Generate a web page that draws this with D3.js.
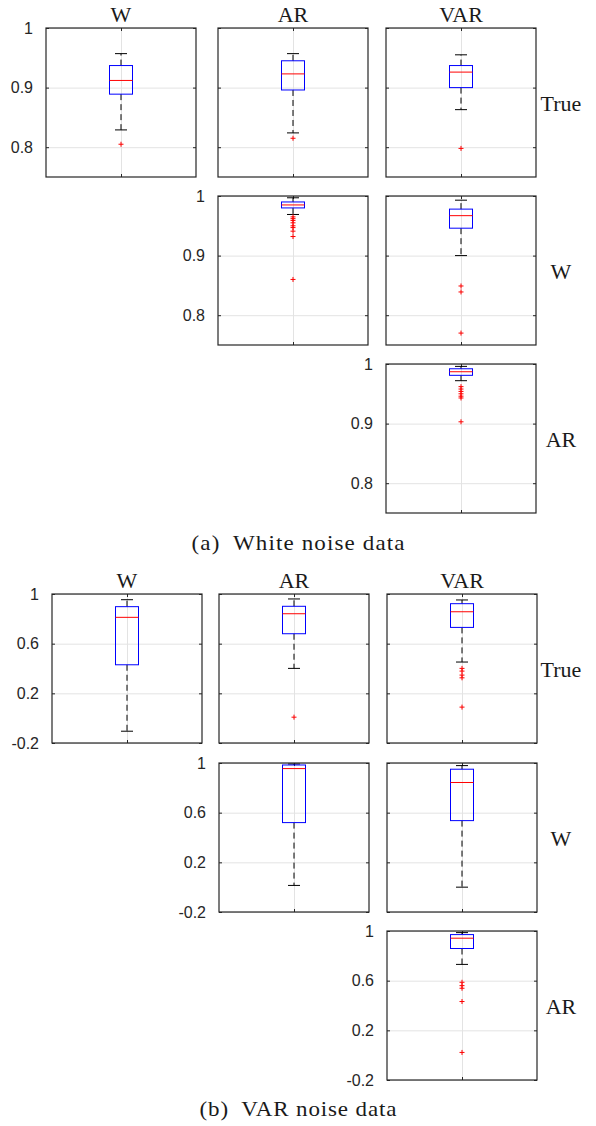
<!DOCTYPE html>
<html lang="en">
<head>
  <meta charset="UTF-8">
  <title>Boxplots: white noise and VAR noise data</title>
  <script src="https://d3js.org/d3.v7.min.js"></script>
  <style>
    body { margin: 0; background: #fff; }
    svg { display: block; }
    .tick text { font-family: "Liberation Sans", Arial, sans-serif; font-size: 16px; fill: #262626; }
    .title, .rowlab, .caption { font-family: "Liberation Serif", "DejaVu Serif", serif; fill: #1a1a1a; }
  </style>
</head>
<body>
<svg width="596" height="1126"></svg>

<script>
  // column / row names (estimator used vs. model that generated the data)
  const colNames = ["W", "AR", "VAR"];
  const rowNames = ["True", "W", "AR"];

  // which cells of the 3x3 grid hold a plot: [row, col]
  const cells = [[0, 0], [0, 1], [0, 2], [1, 1], [1, 2], [2, 2]];

  // (a) white noise data: [lower whisker, q1, median, q3, upper whisker]
  const whiteTicks = [0.8, 0.9, 1];
  const whiteDomain = [0.75, 1];
  const whiteStats = [
    [0.829, 0.889, 0.912, 0.937, 0.957],
    [0.824, 0.896, 0.923, 0.945, 0.957],
    [0.863, 0.900, 0.926, 0.937, 0.955],
    [0.969, 0.980, 0.985, 0.990, 0.997],
    [0.900, 0.946, 0.967, 0.978, 0.993],
    [0.972, 0.981, 0.987, 0.992, 0.996]
  ];
  const whiteOutliers = [
    [0.805],
    [0.815],
    [0.798],
    [0.965, 0.962, 0.959, 0.955, 0.950, 0.947, 0.941, 0.932, 0.860],
    [0.849, 0.839, 0.770],
    [0.962, 0.958, 0.954, 0.950, 0.946, 0.943, 0.903]
  ];

  // (b) VAR noise data
  const varTicks = [-0.2, 0.2, 0.6, 1];
  const varDomain = [-0.2, 1];
  const varStats = [
    [-0.105, 0.430, 0.812, 0.898, 0.954],
    [0.401, 0.680, 0.841, 0.901, 0.960],
    [0.452, 0.731, 0.857, 0.922, 0.952],
    [0.014, 0.520, 0.955, 0.984, 0.992],
    [0.000, 0.536, 0.843, 0.950, 0.979],
    [0.731, 0.859, 0.942, 0.971, 0.987]
  ];
  const varOutliers = [
    [],
    [0.008],
    [0.401, 0.379, 0.347, 0.325, 0.089],
    [],
    [],
    [0.587, 0.560, 0.539, 0.432, 0.022]
  ];

  const svg = d3.select("svg");
  const pw = 150, ph = 149;

  const sections = [
    { lefts: [46, 218, 386], tops: [28, 196, 364], ticks: whiteTicks, domain: whiteDomain,
      stats: whiteStats, outliers: whiteOutliers,
      caption: "(a)\u2002White noise data", capY: 550, capW: 213 },
    { lefts: [52, 219, 387], tops: [594, 763, 931], ticks: varTicks, domain: varDomain,
      stats: varStats, outliers: varOutliers,
      caption: "(b)\u2002VAR noise data", capY: 1116, capW: 197 }
  ];

  const fmt = d => String(d);

  sections.forEach(sec => {
    cells.forEach(([r, c], i) => {
      const left = sec.lefts[c], top = sec.tops[r];
      const y = d3.scaleLinear().domain(sec.domain).range([top + ph, top]);
      const x = d3.scalePoint().domain([1]).range([left, left + pw]).padding(0.5);
      const g = svg.append("g");

      // grid
      g.append("g")
        .attr("transform", `translate(${left},0)`)
        .call(d3.axisLeft(y).tickValues(sec.ticks).tickSize(-pw).tickFormat(""))
        .call(a => a.select(".domain").remove())
        .call(a => a.selectAll("line").attr("stroke", "#e3e3e3"));
      g.append("g")
        .attr("transform", `translate(0,${top + ph})`)
        .call(d3.axisBottom(x).tickSize(-ph).tickFormat(""))
        .call(a => a.select(".domain").remove())
        .call(a => a.selectAll("line").attr("stroke", "#e3e3e3"));

      // tick marks (inside) and labels on the first plot of each row
      const labelled = (r === c);
      g.append("g")
        .attr("transform", `translate(${left},0)`)
        .call(d3.axisLeft(y).tickValues(sec.ticks).tickSize(-3).tickPadding(13)
          .tickFormat(labelled ? fmt : ""))
        .call(a => a.select(".domain").remove())
        .call(a => a.selectAll("line").attr("stroke", "#262626"));
      g.append("g")
        .attr("transform", `translate(${left + pw},0)`)
        .call(d3.axisRight(y).tickValues(sec.ticks).tickSize(-3).tickFormat(""))
        .call(a => a.select(".domain").remove())
        .call(a => a.selectAll("line").attr("stroke", "#262626"));
      g.append("g")
        .attr("transform", `translate(0,${top + ph})`)
        .call(d3.axisBottom(x).tickSize(-3).tickFormat(""))
        .call(a => a.select(".domain").remove())
        .call(a => a.selectAll("line").attr("stroke", "#262626"));
      g.append("g")
        .attr("transform", `translate(0,${top})`)
        .call(d3.axisTop(x).tickSize(-3).tickFormat(""))
        .call(a => a.select(".domain").remove())
        .call(a => a.selectAll("line").attr("stroke", "#262626"));

      // box
      const [lo, q1, med, q3, hi] = sec.stats[i];
      const cx = x(1), bw = 23, cw = 12;
      g.append("line").attr("x1", cx).attr("x2", cx).attr("y1", y(q3)).attr("y2", y(hi))
        .attr("stroke", "#000").attr("stroke-dasharray", "6,4");
      g.append("line").attr("x1", cx).attr("x2", cx).attr("y1", y(q1)).attr("y2", y(lo))
        .attr("stroke", "#000").attr("stroke-dasharray", "6,4");
      [lo, hi].forEach(v => g.append("line")
        .attr("x1", cx - cw / 2).attr("x2", cx + cw / 2).attr("y1", y(v)).attr("y2", y(v))
        .attr("stroke", "#000"));
      g.append("rect")
        .attr("x", cx - bw / 2).attr("y", y(q3)).attr("width", bw).attr("height", y(q1) - y(q3))
        .attr("fill", "none").attr("stroke", "#0000ff");
      g.append("line").attr("x1", cx - bw / 2).attr("x2", cx + bw / 2)
        .attr("y1", y(med)).attr("y2", y(med)).attr("stroke", "#ff0000");

      g.selectAll("path.out").data(sec.outliers[i]).join("path")
        .attr("class", "out")
        .attr("d", d => `M${cx - 2.5},${y(d)}h5M${cx},${y(d) - 2.5}v5`)
        .attr("stroke", "#ff0000");

      // frame
      g.append("rect")
        .attr("x", left).attr("y", top).attr("width", pw).attr("height", ph)
        .attr("fill", "none").attr("stroke", "#262626").attr("stroke-width", 1.2);
    });

    // column titles and row labels
    colNames.forEach((n, c) => {
      svg.append("text").attr("class", "title")
        .attr("x", sec.lefts[c] + pw / 2).attr("y", sec.tops[0] - 6)
        .attr("text-anchor", "middle").attr("font-size", 22).text(n);
    });
    rowNames.forEach((n, r) => {
      svg.append("text").attr("class", "rowlab")
        .attr("x", 561).attr("y", sec.tops[r] + ph / 2 + 8)
        .attr("text-anchor", "middle").attr("font-size", 22).text(n);
    });
    // caption: slightly widened serif to mimic the wider LaTeX font
    const sx = 1.15;
    svg.append("text").attr("class", "caption")
      .attr("transform", `translate(${298 - sec.capW / 2},${sec.capY}) scale(${sx},1)`)
      .attr("font-size", 20)
      .attr("textLength", sec.capW / sx).attr("lengthAdjust", "spacing")
      .text(sec.caption);
  });
</script>
</body>
</html>
